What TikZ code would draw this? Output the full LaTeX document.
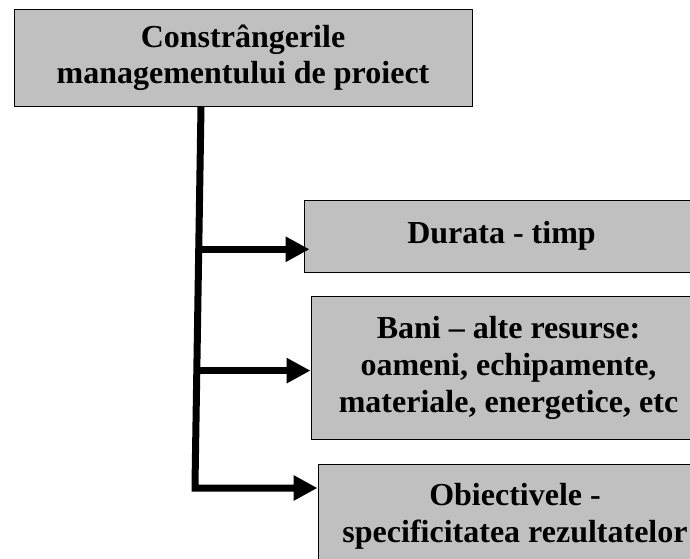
\documentclass[tikz,border=0pt]{standalone}
\usepackage{fontspec}
\setmainfont{Liberation Serif}
\usetikzlibrary{arrows.meta,calc}

\definecolor{boxgray}{HTML}{C0C0C0}

\tikzset{
  box/.style={draw=black, line width=1pt, fill=boxgray, rectangle,
    inner sep=0pt, align=center,
    font=\bfseries\fontsize{32}{37}\selectfont},
  trunk/.style={line width=7pt, line join=miter, line cap=butt},
  branch/.style={trunk, -{Triangle[length=24pt, width=24pt]}}
}

\begin{document}
\begin{tikzpicture}[x=1pt, y=-1pt]
  \useasboundingbox (0,0) rectangle (690,558);
  \clip (0,0) rectangle (690,558);

  % boxes
  \node[box, minimum width=458pt, minimum height=97pt] (top) at (243,58)
    {Constrângerile\\[-1pt]managementului de proiect};
  \node[box, minimum width=395pt, minimum height=72pt] (time) at (501.5,236)
    {Durata - timp};
  \node[box, minimum width=395pt, minimum height=143pt] (money) at (508.5,367.5)
    {Bani – alte resurse:\\oameni, echipamente{,}\\materiale, energetice, etc};
  \node[box, minimum width=394pt, minimum height=104pt] (goals) at (515,516)
    {Obiectivele -\\specificitatea rezultatelor};

  % trunk leaving the top box, bending towards the last box
  \coordinate (start) at ([xshift=-42pt]top.south);
  \coordinate (corner) at (195,488);
  \coordinate (j1) at ($(start)!0.3734!(corner)$);
  \coordinate (j2) at ($(start)!0.6919!(corner)$);

  \draw[branch] (start) -- ([yshift=3.5pt]corner) -- (corner) -- (corner -| goals.west);
  \draw[branch] (j1) -- ([xshift=6pt]j1 -| time.west);
  \draw[branch] (j2) -- (j2 -| money.west);
\end{tikzpicture}
\end{document}
